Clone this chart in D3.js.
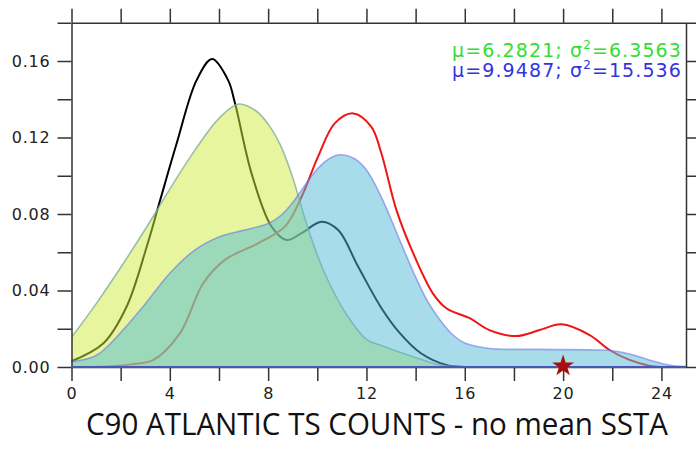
<!DOCTYPE html>
<html>
<head>
<meta charset="utf-8">
<script src="https://cdn.jsdelivr.net/npm/d3@7"></script>
<style>
	body { margin: 0; background: #fff; }
	svg { display: block; }
</style>
</head>
<body>
<div id="chart"></div>
<script>
// density curves
var yellowX = [0, 1, 2, 3, 4, 5, 6, 6.8, 7.5, 8, 8.5, 9, 9.6, 10.3, 11.25, 12, 12.6, 13.3, 13.9, 15, 16, 25];
var yellowY = [0.0155, 0.033, 0.052, 0.072, 0.093, 0.113, 0.130, 0.1375, 0.134, 0.127, 0.116, 0.099, 0.0734, 0.049, 0.0263, 0.0145, 0.0112, 0.008, 0.0054, 0.001, 0, 0];

var blueX = [0, 1, 2, 3, 4, 5, 6, 7, 8, 8.5, 9, 9.5, 10, 10.5, 10.9, 11.5, 12, 12.6, 13.3, 14, 14.5, 15, 15.5, 16, 17, 19, 21.5, 22, 22.7, 23.5, 24.3, 25];
var blueY = [0.0028, 0.006, 0.018, 0.033, 0.049, 0.061, 0.068, 0.0715, 0.075, 0.079, 0.086, 0.095, 0.1035, 0.109, 0.111, 0.109, 0.103, 0.089, 0.068, 0.047, 0.034, 0.0245, 0.017, 0.0125, 0.0097, 0.0092, 0.0089, 0.0085, 0.0068, 0.0037, 0.001, 0.0002];

var blackX = [0, 1.3, 2.24, 3.06, 3.57, 4.28, 5.09, 5.72, 6.37, 6.65, 7.33, 8.14, 8.75, 9.36, 10.17, 10.85, 11.66, 12.6, 13.35, 14.2, 15.25, 16, 17];
var blackY = [0.003, 0.0124, 0.0315, 0.0629, 0.0856, 0.117, 0.150, 0.161, 0.150, 0.138, 0.101, 0.0734, 0.0664, 0.070, 0.076, 0.0716, 0.0525, 0.031, 0.0178, 0.0073, 0.001, 0, 0];

var redX = [0, 1.5, 2.5, 3.33, 4.41, 5.36, 6.24, 7.59, 8.68, 9.36, 10.03, 10.71, 11.46, 12.2, 12.6, 13.22, 13.9, 14.7, 15.25, 16.2, 17, 18.1, 19.04, 19.93, 21.08, 21.89, 22.7, 23.5, 24, 25];
var redY = [0, 0.0003, 0.0015, 0.0037, 0.0176, 0.0438, 0.056, 0.0647, 0.0734, 0.089, 0.110, 0.1274, 0.1326, 0.1256, 0.112, 0.082, 0.0595, 0.0385, 0.0307, 0.0255, 0.0193, 0.0162, 0.0193, 0.0223, 0.0167, 0.0089, 0.0037, 0.0007, 0, 0];

var starX = [20];
var starY = [0];

var xMajor = [0, 4, 8, 12, 16, 20, 24];
var xMinor = [2, 6, 10, 14, 18, 22];
var yMajor = [0, 0.04, 0.08, 0.12, 0.16];
var yMinor = [0.02, 0.06, 0.10, 0.14, 0.18];

var statLines = [
	{mu: "6.2821", sigma2: "6.3563", color: "#33dd33"},
	{mu: "9.9487", sigma2: "15.536", color: "#3333dd"}
];
var titleText = "C90 ATLANTIC TS COUNTS - no mean SSTA";

(function() {
	var WIDTH = 696, HEIGHT = 449;
	var LEFT = 71.5, RIGHT = 686, TOP = 22.75, BOTTOM = 367;
	var TICK = 14;
	var FRAME = "#333";

	var svg = d3.select("#chart").append("svg")
		.attr("width", WIDTH)
		.attr("height", HEIGHT);

	svg.append("rect")
		.attr("width", WIDTH)
		.attr("height", HEIGHT)
		.style("fill", "#fff");

	var x = d3.scaleLinear().domain([0, 25]).range([LEFT, RIGHT]);
	var y = d3.scaleLinear().domain([0, 0.18]).range([BOTTOM, TOP]);

	function pairs(xs, ys) {
		return xs.map(function(v, i) { return [v, ys[i]]; });
	}

	var curve = d3.curveCatmullRom.alpha(0.5);

	var line = d3.line()
		.x(function(d) { return x(d[0]); })
		.y(function(d) { return y(d[1]); })
		.curve(curve);

	var area = d3.area()
		.x(function(d) { return x(d[0]); })
		.y0(y(0))
		.y1(function(d) { return y(d[1]); })
		.curve(curve);

	svg.append("clipPath").attr("id", "plot-clip")
		.append("rect")
		.attr("x", LEFT).attr("y", TOP)
		.attr("width", RIGHT - LEFT).attr("height", BOTTOM - TOP);

	var plot = svg.append("g").attr("clip-path", "url(#plot-clip)");

	// lines go first, the see-through fills sit on top of them
	plot.append("path")
		.attr("d", line(pairs(blackX, blackY)))
		.style("fill", "none")
		.style("stroke", "#000")
		.style("stroke-width", 2);

	plot.append("path")
		.attr("d", line(pairs(redX, redY)))
		.style("fill", "none")
		.style("stroke", "#f01414")
		.style("stroke-width", 2);

	plot.append("path")
		.attr("d", area(pairs(yellowX, yellowY)))
		.style("fill", "#cfee3e")
		.style("fill-opacity", 0.5);

	plot.append("path")
		.attr("d", line(pairs(yellowX, yellowY)))
		.style("fill", "none")
		.style("stroke", "#7fa89c")
		.style("stroke-opacity", 0.75)
		.style("stroke-width", 1.6);

	plot.append("path")
		.attr("d", area(pairs(blueX, blueY)))
		.style("fill", "#51b9d5")
		.style("fill-opacity", 0.5);

	plot.append("path")
		.attr("d", line(pairs(blueX, blueY)))
		.style("fill", "none")
		.style("stroke", "#6a78e6")
		.style("stroke-opacity", 0.6)
		.style("stroke-width", 1.6);

	// frame with outward ticks on all four sides
	var xAll = xMajor.concat(xMinor);
	var yAll = yMajor.concat(yMinor);
	var fmtY = d3.format(".2f");

	var axes = [
		{axis: d3.axisBottom(x).tickValues(xAll).tickFormat(function(d) { return xMajor.indexOf(d) >= 0 ? d : ""; }), t: "translate(0," + BOTTOM + ")"},
		{axis: d3.axisTop(x).tickValues(xAll).tickFormat(""), t: "translate(0," + TOP + ")"},
		{axis: d3.axisLeft(y).tickValues(yAll).tickFormat(function(d) { return yMajor.indexOf(d) >= 0 ? fmtY(d) : ""; }), t: "translate(" + LEFT + ",0)"},
		{axis: d3.axisRight(y).tickValues(yAll).tickFormat(""), t: "translate(" + RIGHT + ",0)"}
	];

	axes.forEach(function(a) {
		var g = svg.append("g")
			.attr("transform", a.t)
			.call(a.axis.tickSize(TICK).tickSizeOuter(0).tickPadding(7));
		g.select(".domain").style("stroke", FRAME).style("stroke-width", 1.5);
		g.selectAll(".tick line").style("stroke", FRAME).style("stroke-width", 1.5);
		g.selectAll(".tick text")
			.style("font-family", "DejaVu Sans, sans-serif")
			.style("font-size", "16px")
			.style("letter-spacing", "0.8px")
			.style("fill", "#222");
	});

	// baseline picked up by the blue fill's edge
	svg.append("line")
		.attr("x1", x(0)).attr("x2", x(25))
		.attr("y1", y(0)).attr("y2", y(0))
		.style("stroke", "#4657b5")
		.style("stroke-width", 2);

	svg.selectAll(".star")
		.data(pairs(starX, starY))
		.enter().append("path")
		.attr("class", "star")
		.attr("transform", function(d) { return "translate(" + x(d[0]) + "," + (y(d[1]) - 1) + ")"; })
		.attr("d", d3.symbol(d3.symbolStar, 150))
		.style("fill", "#a80f0a");

	// stats text, top right
	var stats = svg.selectAll(".stat")
		.data(statLines)
		.enter().append("text")
		.attr("class", "stat")
		.attr("x", 682)
		.attr("y", function(d, i) { return 56.5 + i * 20.5; })
		.style("text-anchor", "end")
		.style("font-family", "DejaVu Sans, sans-serif")
		.style("font-size", "19px")
		.style("letter-spacing", "1.1px")
		.style("fill", function(d) { return d.color; });

	stats.append("tspan").text(function(d) { return "\u03bc=" + d.mu + ";  \u03c3"; });
	stats.append("tspan").attr("dy", -8).style("font-size", "12px").text("2");
	stats.append("tspan").attr("dy", 8).text(function(d) { return "=" + d.sigma2; });

	svg.append("text")
		.attr("x", 377)
		.attr("y", 435)
		.attr("textLength", 582)
		.attr("lengthAdjust", "spacingAndGlyphs")
		.style("text-anchor", "middle")
		.style("font-family", "Open Sans, sans-serif")
		.style("font-size", "31px")
		.style("fill", "#111")
		.text(titleText);
}());
</script>
</body>
</html>
